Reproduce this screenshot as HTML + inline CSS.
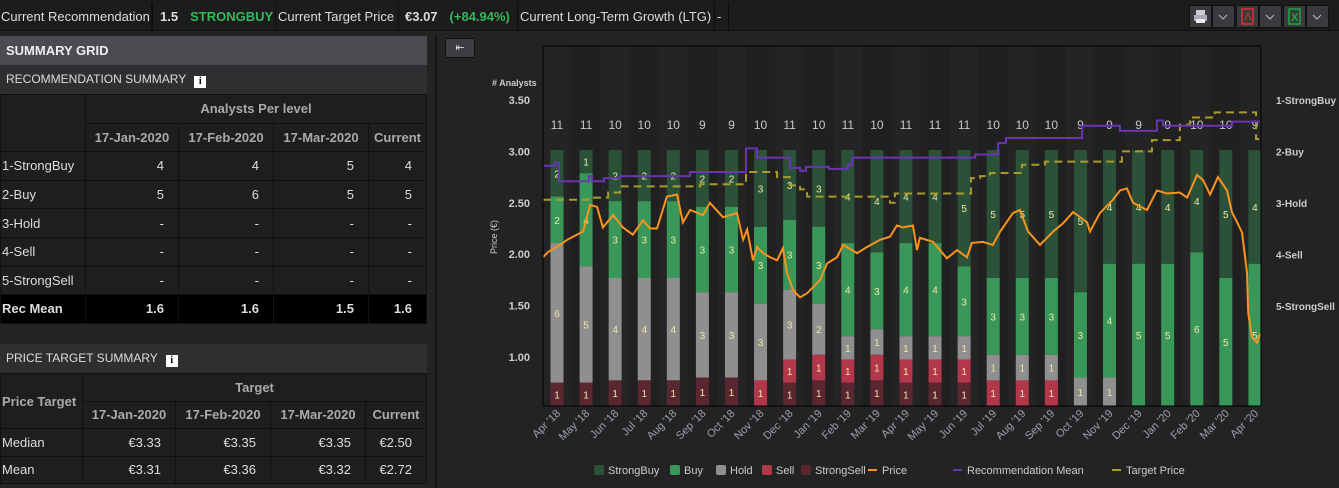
<!DOCTYPE html>
<html><head><meta charset="utf-8"><style>
*{box-sizing:border-box;margin:0;padding:0}
body{width:1339px;height:488px;background:#232323;font-family:"Liberation Sans",sans-serif;color:#ddd;position:relative;overflow:hidden}
.top{position:absolute;left:0;top:0;width:1339px;height:31px;background:#1c1c1c;border-bottom:1px solid #111}
.cell{position:absolute;top:3px;height:27px;line-height:27px;font-size:13px;color:#ddd;padding:0 2px;border-right:1px solid #0e0e0e;border-left:1px solid #0e0e0e;white-space:nowrap}
.panel{position:absolute;left:0;width:427px}
table{border-collapse:collapse;width:427px;font-size:13px;table-layout:fixed}
td,th{border:1px solid #111;height:28.6px;padding:0 4px;color:#ddd;white-space:nowrap;overflow:hidden}
th{color:#aaa;font-weight:bold}
.pt td,.pt th{height:27.5px}
.num{text-align:right;padding-right:14px}
.hdr{position:absolute;left:0;width:427px;font-size:12px;color:#ddd}
.info{display:inline-block;width:12px;height:12px;background:#fff;color:#000;font-size:10px;font-weight:bold;text-align:center;line-height:12px;font-family:"Liberation Serif",serif;margin-left:8px;vertical-align:-1px}
.btn{position:absolute;top:5px;width:23px;height:23px;background:#3a3a3e;border:1px solid #111}
</style></head><body>
<div class="top">
 <div class="cell" style="left:-1px;border-left:none">Current Recommendation</div>
 <div class="cell" style="left:151px;width:125px"><b style="margin-left:6px">1.5</b><b style="color:#35b75a;margin-left:12px">STRONGBUY</b></div>
 <div class="cell" style="left:275px;width:124px">Current Target Price</div>
 <div class="cell" style="left:398px;width:120px"><b style="margin-left:4px">€3.07</b><b style="color:#35b75a;margin-left:12px">(+84.94%)</b></div>
 <div class="cell" style="left:517px;width:198px">Current Long-Term Growth (LTG)</div>
 <div class="cell" style="left:714px;width:15px">-</div>
 <div class="btn" style="left:1189px"><svg width="21" height="21"><rect x="6" y="4" width="9" height="5" fill="#ccc"/><rect x="4" y="9" width="13" height="6" fill="#aab"/><rect x="6" y="13" width="9" height="4" fill="#eee"/></svg></div>
 <div class="btn" style="left:1212px"><svg width="21" height="21"><path d="M6 9l4 4 4-4" stroke="#bbb" fill="none"/></svg></div>
 <div class="btn" style="left:1236px"><svg width="21" height="21"><rect x="5" y="3" width="11" height="15" fill="none" stroke="#e03030" stroke-width="1.5"/><path d="M8 14l3-7 3 7" stroke="#e03030" fill="none"/></svg></div>
 <div class="btn" style="left:1259px"><svg width="21" height="21"><path d="M6 9l4 4 4-4" stroke="#bbb" fill="none"/></svg></div>
 <div class="btn" style="left:1283px"><svg width="21" height="21"><rect x="5" y="3" width="11" height="15" fill="none" stroke="#1fa83c" stroke-width="1.5"/><text x="7" y="15" fill="#1fa83c" font-size="11" font-weight="bold" font-family="Liberation Sans">X</text></svg></div>
 <div class="btn" style="left:1306px"><svg width="21" height="21"><path d="M6 9l4 4 4-4" stroke="#bbb" fill="none"/></svg></div>
</div>

<div class="hdr" style="top:36px;height:29px;line-height:29px;background:#4b4c51;font-weight:bold;font-size:13px;padding-left:6px;color:#eee">SUMMARY GRID</div>
<div class="hdr" style="top:65px;height:29px;line-height:29px;background:#2f2f32;padding-left:6px">RECOMMENDATION SUMMARY<span class="info">i</span></div>
<div class="panel" style="top:94px;background:#1e1e1f">
<table>
<colgroup><col style="width:85px"><col style="width:93px"><col style="width:95px"><col style="width:95px"><col></colgroup>
<tr><th rowspan="2"></th><th colspan="4">Analysts Per level</th></tr>
<tr><th>17-Jan-2020</th><th>17-Feb-2020</th><th>17-Mar-2020</th><th>Current</th></tr>
<tr><td style="padding-left:1px">1-StrongBuy</td><td class="num">4</td><td class="num">4</td><td class="num">5</td><td class="num">4</td></tr>
<tr><td style="padding-left:1px">2-Buy</td><td class="num">5</td><td class="num">6</td><td class="num">5</td><td class="num">5</td></tr>
<tr><td style="padding-left:1px">3-Hold</td><td class="num">-</td><td class="num">-</td><td class="num">-</td><td class="num">-</td></tr>
<tr><td style="padding-left:1px">4-Sell</td><td class="num">-</td><td class="num">-</td><td class="num">-</td><td class="num">-</td></tr>
<tr><td style="padding-left:1px">5-StrongSell</td><td class="num">-</td><td class="num">-</td><td class="num">-</td><td class="num">-</td></tr>
<tr style="background:#000;font-weight:bold"><td style="padding-left:1px">Rec Mean</td><td class="num">1.6</td><td class="num">1.6</td><td class="num">1.5</td><td class="num">1.6</td></tr>
</table></div>
<div class="hdr" style="top:344px;height:29px;line-height:29px;background:#2f2f32;padding-left:6px">PRICE TARGET SUMMARY<span class="info">i</span></div>
<div class="panel pt" style="top:373px;background:#1e1e1f">
<table>
<colgroup><col style="width:82px"><col style="width:93px"><col style="width:95px"><col style="width:95px"><col></colgroup>
<tr><th rowspan="2" style="text-align:left;padding-left:1px">Price Target</th><th colspan="4">Target</th></tr>
<tr><th>17-Jan-2020</th><th>17-Feb-2020</th><th>17-Mar-2020</th><th>Current</th></tr>
<tr><td style="padding-left:1px">Median</td><td class="num">€3.33</td><td class="num">€3.35</td><td class="num">€3.35</td><td class="num">€2.50</td></tr>
<tr><td style="padding-left:1px">Mean</td><td class="num">€3.31</td><td class="num">€3.36</td><td class="num">€3.32</td><td class="num">€2.72</td></tr>
</table></div>
<div style="position:absolute;left:435px;top:36px;width:2px;height:452px;background:#151515"></div>
<div style="position:absolute;left:445px;top:38px;width:30px;height:20px;background:#3d3e42;border:1px solid #111;color:#ddd;font-size:11px;text-align:center;line-height:18px">⇤</div>

<svg id="chart" style="position:absolute;left:0;top:0" width="1339" height="488"></svg>
<script>
const months=["Apr '18","May '18","Jun '18","Jul '18","Aug '18","Sep '18","Oct '18","Nov '18","Dec '18","Jan '19","Feb '19","Mar '19","Apr '19","May '19","Jun '19","Jul '19","Aug '19","Sep '19","Oct '19","Nov '19","Dec '19","Jan '20","Feb '20","Mar '20","Apr '20"];
const strongBuy=[2,1,2,2,2,2,2,3,3,3,4,4,4,4,5,5,5,5,5,4,4,4,4,5,4];
const buy=[2,4,3,3,3,3,3,3,3,3,4,3,4,4,3,3,3,3,3,4,5,5,6,5,5];
const hold=[6,5,4,4,4,3,3,3,3,2,1,1,1,1,1,1,1,1,1,1,0,0,0,0,0];
const sell=[0,0,0,0,0,0,0,1,1,1,1,1,1,1,1,1,1,1,0,0,0,0,0,0,0];
const strongSell=[1,1,1,1,1,1,1,0,1,1,1,1,1,1,1,0,0,0,0,0,0,0,0,0,0];
const priceT=[0,.17,.58,.83,1.17,1.38,1.62,1.86,2.06,2.41,2.75,3.09,3.44,3.68,3.92,4.26,4.61,4.81,5.06,5.5,5.74,6.19,6.67,6.88,7.02,7.22,7.36,7.57,7.81,8.05,8.25,8.39,8.6,8.84,9.08,9.53,9.77,10.11,10.32,10.8,11.14,11.59,11.93,12.17,12.38,12.72,12.86,12.96,13.41,13.89,14.24,14.58,14.75,15.13,15.47,15.72,16.16,16.4,16.68,17.09,17.54,17.88,18.23,18.71,18.81,19.15,19.6,19.84,20.08,20.29,20.77,21.11,21.46,21.9,22.15,22.49,22.7,22.94,23.21,23.52,23.69,23.87,24.04,24.21,24.25,24.38,24.55,24.66];
const price=[1.97,2.02,2.09,2.14,2.19,2.22,2.48,2.46,2.26,2.38,2.26,2.19,2.33,2.25,2.25,2.56,2.58,2.31,2.43,2.38,2.50,2.36,2.40,2.14,2.24,1.94,2.07,2.01,1.97,1.94,2.06,1.82,1.65,1.58,1.62,1.75,1.91,1.97,2.09,2.01,2.07,2.14,2.17,2.28,2.26,2.28,2.04,2.16,2.12,1.96,2.04,1.97,2.11,2.12,2.09,2.22,2.40,2.43,2.22,2.09,2.22,2.30,2.41,2.31,2.22,2.40,2.53,2.62,2.64,2.50,2.43,2.62,2.59,2.60,2.55,2.77,2.72,2.58,2.75,2.62,2.41,2.31,2.21,1.82,1.43,1.19,1.14,1.23];
const recT=[0,.41,.55,1.58,1.69,2.1,2.65,5.06,6.98,7.36,8.49,8.84,9.04,9.83,10.49,10.63,14.86,15.65,15.92,18.54,19.84,21.11,21.32,23.69,24.66];
const recLevel=[2.86,2.89,2.71,2.76,2.71,2.74,2.76,2.80,3.03,2.94,2.84,2.81,2.85,2.83,2.87,2.94,2.97,3.08,3.13,3.25,3.20,3.30,3.25,3.29,3.29];
const tgtT=[0,1.55,2.24,2.65,5.4,6.98,8.05,8.49,8.84,9.08,11.93,12.1,14.72,15.03,15.37,16.47,17.26,19.91,20.94,21.9,22.25,23.1,24.52,24.66];
const tgt=[2.53,2.55,2.60,2.66,2.68,2.80,2.75,2.67,2.63,2.56,2.50,2.59,2.74,2.76,2.79,2.87,2.90,3.00,3.11,3.26,3.33,3.38,3.12,3.12];
const priceTicks=[1.00,1.50,2.00,2.50,3.00,3.50];
const recLabels=["1-StrongBuy","2-Buy","3-Hold","4-Sell","5-StrongSell"];

const svg=document.getElementById('chart'),NS="http://www.w3.org/2000/svg";
const L=543,R=1261,T=46,B=406,barTop=150,barW=13;
const xT=t=>L+t*29.08, xB=i=>557+i*29.08, yP=p=>357-(p-1)*102.8;
function el(tag,a,txt){const e=document.createElementNS(NS,tag);for(const k in a)e.setAttribute(k,a[k]);if(txt!==undefined)e.textContent=txt;svg.appendChild(e);return e;}
let e=el('rect',{x:L,y:T,width:R-L,height:B-T,fill:'#1c1c1c'});


months.forEach((m,i)=>{const b=el('rect',{x:xB(i)-14.5,y:T,width:29,height:B-T,fill:i%2==0?'#242424':'#202020'});

});
const cols=['#2b5238','#3a975a','#8f8f8f','#b3374b','#5a2731'];
const series=[strongBuy,buy,hold,sell,strongSell];
months.forEach((m,i)=>{
 const tot=series.reduce((s,a)=>s+a[i],0);let y=barTop;
 series.forEach((a,k)=>{const v=a[i];if(!v)return;const h=v/tot*(B-barTop);
  const r=el('rect',{x:xB(i)-barW/2,y:y,width:barW,height:h,fill:cols[k]});
  
  
  const t=el('text',{x:xB(i),y:y+h/2+4,'text-anchor':'middle','font-size':10,fill:'#efe7a8'},v);
  
  
  y+=h;});
 const tt=el('text',{x:xB(i),y:129,'text-anchor':'middle','font-size':12,fill:'#c8c8cc'},tot);
 
 
 const ml=el('text',{x:xB(i)+4,y:414,'text-anchor':'end','font-size':11,fill:'#9aa0ad',transform:`rotate(-45 ${xB(i)+4} 414)`},m);
 
 
});
function step(ts,vs){let d='';ts.forEach((t,i)=>{const x=xT(t),y=yP(vs[i]);d+=i?`H${x}V${y}`:`M${x} ${y}`;});return d;}
e=el('path',{d:step(tgtT,tgt),fill:'none',stroke:'#a89b2c','stroke-width':2,'stroke-dasharray':'8 5'});


e=el('path',{d:step(recT,recLevel),fill:'none',stroke:'#6a35b3','stroke-width':2});


e=el('path',{d:price.map((p,i)=>(i?'L':'M')+xT(priceT[i])+' '+yP(p)).join(''),fill:'none',stroke:'#f7931e','stroke-width':2});


e=el('rect',{x:L,y:T,width:R-L,height:B-T,fill:'none',stroke:'#000','stroke-width':1});


priceTicks.forEach(p=>{const t=el('text',{x:530,y:yP(p)+4,'text-anchor':'end','font-size':11,fill:'#ccc','font-weight':'bold'},p.toFixed(2));

});
e=el('text',{x:492,y:86,'font-size':9,fill:'#ccc','font-weight':'bold'},'# Analysts');


e=el('text',{x:497,y:237,'font-size':9,fill:'#ccc','text-anchor':'middle',transform:'rotate(-90 497 237)'},'Price (€)');


recLabels.forEach((s,i)=>{const t=el('text',{x:1276,y:104+i*51.5,'font-size':10,fill:'#ccc','font-weight':'bold'},s);

});
const leg=[['StrongBuy',594,'sq',cols[0]],['Buy',670,'sq',cols[1]],['Hold',716,'sq',cols[2]],['Sell',762,'sq',cols[3]],['StrongSell',801,'sq',cols[4]],['Price',868,'ln','#f7931e'],['Recommendation Mean',953,'ln','#6a35b3'],['Target Price',1112,'ln','#a89b2c']];
leg.forEach(([n,x,k,c])=>{
 const s=k=='sq'?el('rect',{x:x,y:465,width:10,height:10,rx:2,fill:c}):el('rect',{x:x,y:469,width:9,height:2,fill:c});
 
 
 const t=el('text',{x:x+(k=='sq'?14:14),y:474,'font-size':11,fill:'#ccc'},n);
 
 
});
</script>
</body></html>
